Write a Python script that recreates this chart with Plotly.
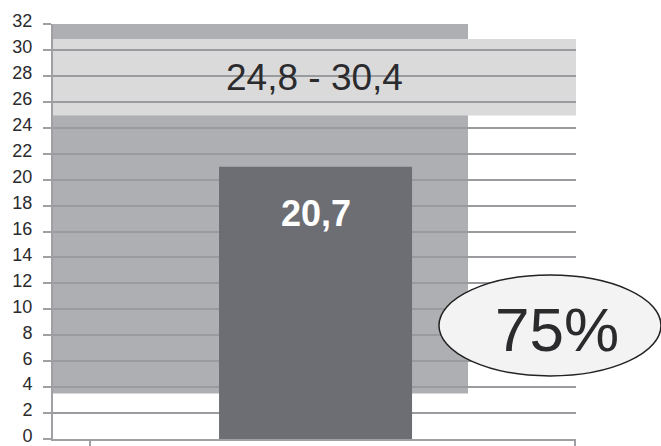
import plotly.graph_objects as go

# ---- data ----
y_ticks = list(range(0, 33, 2))
bar_value = [21.0]
bar_label = ["20,7"]
band_range = [24.95, 30.85]
band_label = "24,8 - 30,4"
background_range = [3.5, 32.0]
percent_label = "75%"

# x positions on a 0..1 numeric axis
bar_x = [0.502]
bar_width = [0.369]
bg_x = [0.0, 0.7935]
band_x = [0.0, 1.003]
x_ticks = [0.0707, 0.998]

GRID = "#9a9b9f"
FONT = "Liberation Sans, Arial"

fig = go.Figure()
fig.add_trace(go.Bar(
    x=bar_x, y=bar_value, width=bar_width,
    marker=dict(color="#6d6e73", line=dict(width=0)),
    hoverinfo="skip", showlegend=False,
))

shapes = [
    dict(type="rect", xref="x", yref="y", layer="below",
         x0=bg_x[0], x1=bg_x[1], y0=background_range[0], y1=background_range[1],
         fillcolor="#aeafb3", line=dict(width=0)),
    dict(type="rect", xref="x", yref="y", layer="below",
         x0=band_x[0], x1=band_x[1], y0=band_range[0], y1=band_range[1],
         fillcolor="#dadada", line=dict(width=0)),
    dict(type="circle", xref="paper", yref="paper", layer="above",
         x0=0.738, x1=1.1625, y0=0.152, y1=0.395,
         fillcolor="#f3f3f3", line=dict(color="#222222", width=1.5)),
]

annotations = [
    dict(x=0.5, y=(band_range[0] + band_range[1]) / 2, xref="x", yref="y",
         xanchor="center", yanchor="middle",
         text=band_label, showarrow=False,
         font=dict(family=FONT, size=37, color="#2b2b2e")),
    dict(x=bar_x[0], y=17.4, xref="x", yref="y",
         xanchor="center", yanchor="middle",
         text="<b>" + bar_label[0] + "</b>", showarrow=False,
         font=dict(family=FONT, size=36, color="#ffffff")),
    dict(x=0.964, y=0.265, xref="paper", yref="paper",
         xanchor="center", yanchor="middle",
         text=percent_label, showarrow=False,
         font=dict(family=FONT, size=62, color="#2b2b2e")),
]

fig.update_layout(
    width=661, height=446,
    margin=dict(l=53, r=85, t=24, b=7, autoexpand=False),
    paper_bgcolor="white", plot_bgcolor="white",
    shapes=shapes, annotations=annotations,
    barmode="overlay",
    xaxis=dict(range=[0, 1], showgrid=False, zeroline=False, automargin=False,
               showline=True, linecolor="#a0a0a4", linewidth=2,
               tickmode="array", tickvals=x_ticks, ticktext=["", ""],
               ticks="outside", ticklen=7, tickcolor="#a0a0a4", tickwidth=2,
               fixedrange=True),
    yaxis=dict(range=[0, 32], tickmode="array", tickvals=y_ticks, automargin=False,
               showgrid=True, gridcolor=GRID, gridwidth=1.5,
               zeroline=False, showline=True, linecolor="#a0a0a4", linewidth=2,
               ticks="outside", ticklen=8, tickcolor="#a0a0a4", tickwidth=2,
               ticklabelstandoff=7, ticklabelshift=-3, ticklabeloverflow="allow",
               tickfont=dict(family=FONT, size=18, color="#2b2b2e"),
               fixedrange=True),
)

fig.write_html("out.html")
